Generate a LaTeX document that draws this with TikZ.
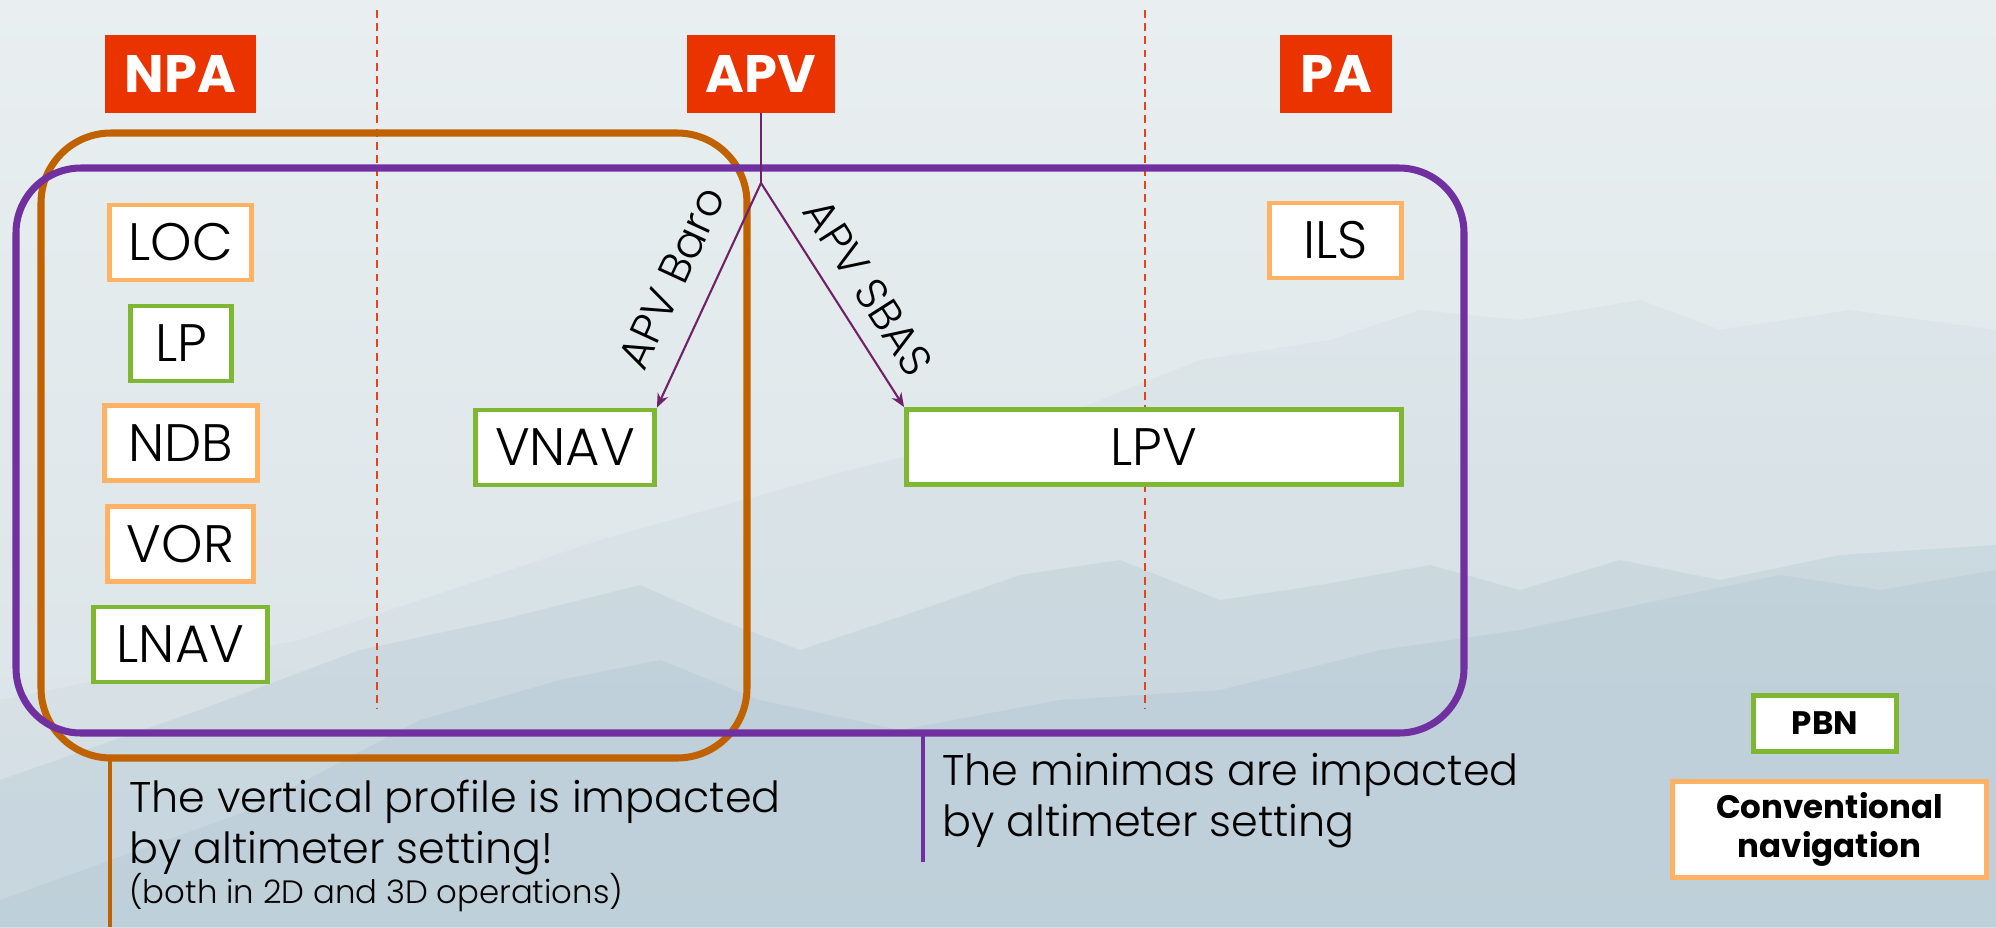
\documentclass[tikz,border=0pt]{standalone}
\usepackage{fontspec}
\setmainfont{Poppins Light}[BoldFont={Poppins Bold}]
\usepackage{tikz}
\usetikzlibrary{arrows.meta}
\definecolor{catred}{RGB}{235,51,0}
\definecolor{npabrown}{RGB}{192,98,0}
\definecolor{apvpurple}{RGB}{112,48,160}
\definecolor{linkpurple}{RGB}{112,34,104}
\definecolor{convorange}{RGB}{255,178,100}
\definecolor{pbngreen}{RGB}{126,184,50}
\definecolor{splitred}{RGB}{233,64,30}
\definecolor{skytop}{RGB}{233,239,240}
\definecolor{skybottom}{RGB}{216,226,231}
\definecolor{ridge}{RGB}{172,195,208}
\pgfdeclarelayer{backlayer}
\pgfdeclarelayer{edgelayer}
\pgfdeclarelayer{nodelayer}
\pgfsetlayers{backlayer,edgelayer,nodelayer,main}
\tikzstyle{none}=[inner sep=0pt]
\tikzstyle{category}=[rectangle,fill=catred,text=white,inner sep=0pt,minimum height=44.4pt,font=\fontsize{30}{32}\selectfont\bfseries]
\tikzstyle{navbox}=[rectangle,fill=white,line width=2.6pt,inner sep=0pt,minimum height=42.9pt,font=\fontsize{30}{32}\selectfont]
\tikzstyle{conv}=[navbox,draw=convorange]
\tikzstyle{pbn}=[navbox,draw=pbngreen]
\tikzstyle{legend}=[rectangle,fill=white,line width=2.6pt,inner sep=0pt,align=center,font=\fontsize{18.5}{22}\selectfont\bfseries]
\tikzstyle{split}=[-,draw=splitred,line width=1.2pt,dash pattern=on 4.5pt off 3pt]
\tikzstyle{npaframe}=[-,draw=npabrown,line width=4pt,rounded corners=1.4cm]
\tikzstyle{apvframe}=[-,draw=apvpurple,line width=4pt,rounded corners=1.3cm]
\tikzstyle{stem}=[-,draw=linkpurple,line width=0.8pt]
\tikzstyle{branch}=[-{Stealth[length=8pt,width=6.5pt]},draw=linkpurple,line width=1.2pt]
\tikzstyle{branchlabel}=[sloped,above,inner sep=10pt,font=\fontsize{25}{28}\selectfont]
\tikzstyle{remark}=[anchor=north west,align=left,inner sep=0pt,font=\fontsize{24.4}{29}\selectfont]
\tikzstyle{npaleg}=[-,draw=npabrown,line width=2.3pt]
\tikzstyle{apvleg}=[-,draw=apvpurple,line width=2.3pt]

\begin{document}
\begin{tikzpicture}[x=0.02cm,y=-0.02cm]
	\useasboundingbox (0,0) rectangle (1996,927);
	\begin{pgfonlayer}{backlayer}
		\shade [top color=skytop,bottom color=skybottom] (0,0) rectangle (1996,927);
		\fill [ridge,opacity=0.12] (0,700) -- (300,640) -- (600,540) -- (850,470) -- (1050,420) -- (1200,360) -- (1330,340) -- (1420,310) -- (1520,320) -- (1640,300) -- (1720,330) -- (1850,310) -- (1996,330) -- (1996,927) -- (0,927) -- cycle;
		\fill [ridge,opacity=0.28] (0,780) -- (200,710) -- (360,650) -- (500,620) -- (640,585) -- (720,620) -- (800,650) -- (920,610) -- (1020,575) -- (1120,560) -- (1220,600) -- (1320,585) -- (1430,565) -- (1520,590) -- (1620,560) -- (1720,580) -- (1840,555) -- (1996,545) -- (1996,927) -- (0,927) -- cycle;
		\fill [ridge,opacity=0.3] (0,900) -- (250,810) -- (420,720) -- (560,680) -- (660,660) -- (760,700) -- (900,730) -- (1060,700) -- (1220,690) -- (1380,650) -- (1520,630) -- (1660,600) -- (1780,575) -- (1880,590) -- (1996,570) -- (1996,927) -- (0,927) -- cycle;
	\end{pgfonlayer}
	\begin{pgfonlayer}{nodelayer}
		\node [style=category,minimum width=85.9pt] (NPA) at (180.5, 74) {NPA};
		\node [style=category,minimum width=84.2pt] (APV) at (761, 74) {APV};
		\node [style=category,minimum width=63.7pt] (PA) at (1336, 74) {PA};

		\node [style=conv,minimum width=81pt] (LOC) at (180.5, 242.5) {LOC};
		\node [style=pbn,minimum width=57.7pt] (LP) at (181, 343.5) {LP};
		\node [style=conv,minimum width=87.3pt] (NDB) at (181, 443) {NDB};
		\node [style=conv,minimum width=83.3pt] (VOR) at (180.5, 544) {VOR};
		\node [style=pbn,minimum width=99.3pt] (LNAV) at (180.5, 644.5) {LNAV};
		\node [style=pbn,minimum width=102.1pt] (VNAV) at (565, 447.5) {VNAV};
		\node [style=pbn,minimum width=281.9pt] (LPV) at (1154, 447) {LPV};
		\node [style=conv,minimum width=75.4pt] (ILS) at (1335.5, 240.5) {ILS};

		\node [style=legend,draw=pbngreen,minimum width=81.6pt,minimum height=32.1pt] (PBN) at (1825, 723.5) {PBN};
		\node [style=legend,draw=convorange,minimum width=178.9pt,minimum height=54.9pt] (CONV) at (1829.5, 829.5) {Conventional\\navigation};

		\node [style=remark] (vprofile) at (129, 780) {The vertical profile is impacted\\by altimeter setting!};
		\node [style=none,anchor=base west,font=\fontsize{18.4}{21}\selectfont] (vnote) at (129, 903) {(both in 2D and 3D operations)};
		\node [style=remark] (minimas) at (942, 753) {The minimas are impacted\\by altimeter setting};

		\coordinate (apex) at (761, 183);
		\coordinate (npafoot) at (110, 758);
		\coordinate (npaend) at (110, 927);
		\coordinate (apvfoot) at (923, 733);
		\coordinate (apvend) at (923, 862);
	\end{pgfonlayer}
	\begin{pgfonlayer}{edgelayer}
		\draw [style=split] (377, 10) to (377, 709);
		\draw [style=split] (1145, 10) to (1145, 709);
		\draw [style=npaframe] (41, 133) rectangle (747, 758);
		\draw [style=apvframe] (16, 168) rectangle (1464, 733);
		\draw [style=npaleg] (npafoot) to (npaend);
		\draw [style=apvleg] (apvfoot) to (apvend);
		\draw [style=stem] (APV.south) to (apex);
		\draw [style=branch] (apex) to node [style=branchlabel,inner sep=14pt] {APV Baro} (VNAV.north east);
		\draw [style=branch] (apex) to node [style=branchlabel,pos=0.55] {APV SBAS} (LPV.north west);
	\end{pgfonlayer}
\end{tikzpicture}
\end{document}
